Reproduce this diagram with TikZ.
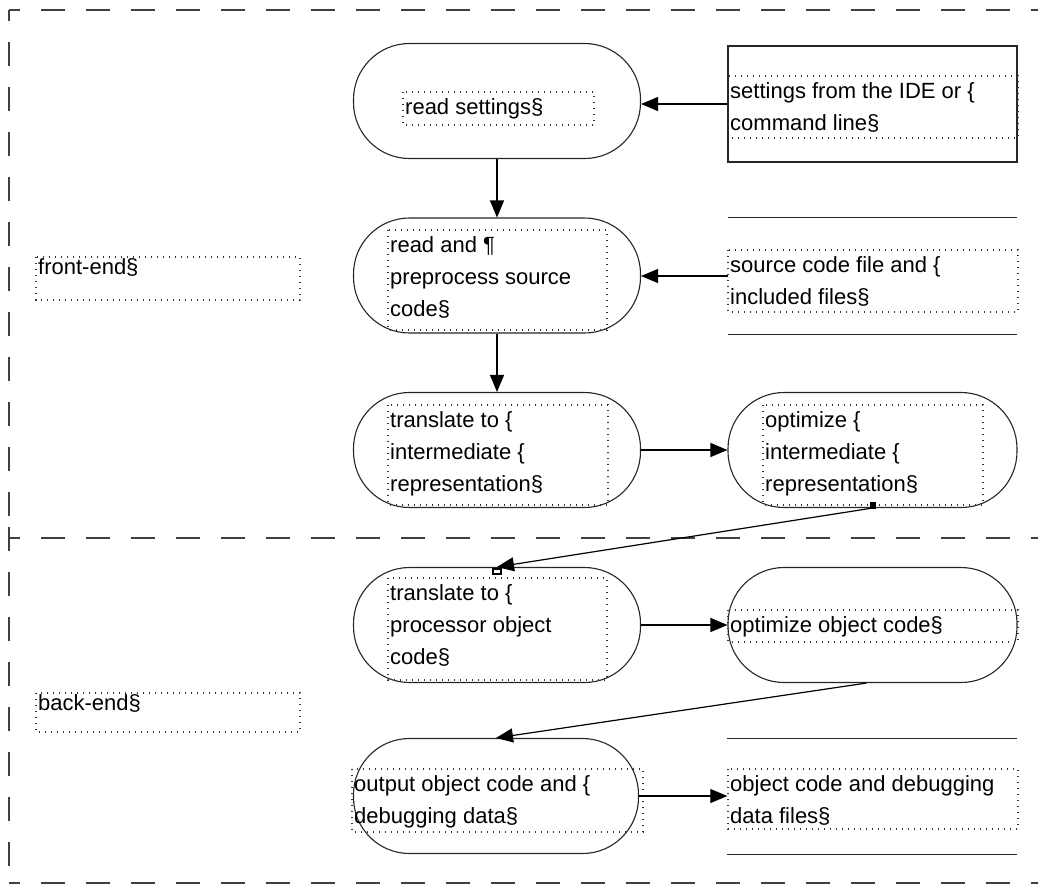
\documentclass[tikz,border=0pt]{standalone}
\usepackage{fontspec}
\setmainfont{Liberation Sans}
\usetikzlibrary{arrows.meta}

\begin{document}
\begin{tikzpicture}[x=1pt, y=-1pt,
  frame/.style={draw=black!75, line width=1.6pt, dash pattern=on 24pt off 21pt},
  proc/.style={draw=black!85, line width=1.1pt, rounded corners=56pt,
    minimum width=287pt, minimum height=115pt, inner sep=0pt},
  ext/.style={minimum width=289pt, minimum height=116pt, inner sep=0pt},
  txtbox/.style={draw=black!80, line width=1.1pt, dash pattern=on 1.1pt off 4.9pt},
  lbl/.style={anchor=north west, inner sep=0pt, align=left,
    font=\fontsize{22}{32}\selectfont},
  arr/.style={-{Triangle[length=17pt,width=14pt]}, line width=1.2pt},
  gluept/.style={draw=black, line width=1.2pt}
]
\useasboundingbox (0,0) rectangle (1038,884);

% lane borders (front-end / back-end)
\draw[frame, dash phase=13pt] (9,10) -- (1045,10);
\draw[frame, dash phase=13pt] (9,538) -- (1045,538);
\draw[frame, dash phase=13pt] (9,883) -- (1045,883);
\draw[frame, dash phase=13pt] (9,10) -- (9,538);
\draw[frame] (9,527) -- (9,890);

% lane labels
\draw[txtbox] (36,257) rectangle (300,300);
\node[lbl] (fe) at (38,257) {\rule{0pt}{17pt}front-end§};
\draw[txtbox] (36,693) rectangle (300,732);
\node[lbl] (be) at (38,693) {\rule{0pt}{17pt}back-end§};

% process steps
\node[proc] (s1) at (497,101) {};
\node[proc] (s2) at (497,275.5) {};
\node[proc] (s3) at (497,450) {};
\node[proc, minimum width=289pt] (s4) at (872.5,450) {};
\node[proc] (s5) at (497,625) {};
\node[proc, minimum width=289pt] (s6) at (872.5,625) {};
\node[proc, minimum width=285pt] (s7) at (496,796) {};

% external inputs and outputs
\node[ext, draw=black!85, line width=1.1pt] (r1) at (872.5,104) {};
\node[ext] (f1) at (872.5,276) {};
\draw[line width=1.1pt, black!85] (f1.north west) -- (f1.north east)
  (f1.south west) -- (f1.south east);
\node[ext, minimum height=115pt] (f2) at (872,796.5) {};
\draw[line width=1.1pt, black!85] (f2.north west) -- (f2.north east)
  (f2.south west) -- (f2.south east);

% step texts
\draw[txtbox] (403,92) rectangle (594,125);
\node[lbl] (t1) at (405,92) {\rule{0pt}{22pt}read settings§};
\draw[txtbox] (388,230) rectangle (607,330);
\node[lbl] (t2) at (390,230) {\rule{0pt}{22pt}read and ¶\\preprocess source\\code§};
\draw[txtbox] (388,405) rectangle (608,505);
\node[lbl] (t3) at (390,405) {\rule{0pt}{22pt}translate to \{\\intermediate \{\\representation§};
\draw[txtbox] (763,405) rectangle (983,505);
\node[lbl] (t4) at (765,405) {\rule{0pt}{22pt}optimize \{\\intermediate \{\\representation§};
\draw[txtbox] (388,578) rectangle (607,680);
\node[lbl] (t5) at (390,578) {\rule{0pt}{22pt}translate to \{\\processor object\\code§};
\draw[txtbox] (728,610) rectangle (1018,642);
\node[lbl] (t6) at (730,610) {\rule{0pt}{22pt}optimize object code§};
\draw[txtbox] (352,769) rectangle (643,832);
\node[lbl] (t7) at (354,769) {\rule{0pt}{22pt}output object code and \{\\debugging data§};

% external texts
\draw[txtbox] (728,76) rectangle (1018,138);
\node[lbl] (tr1) at (730,76) {\rule{0pt}{22pt}settings from the IDE or \{\\command line§};
\draw[txtbox] (728,250) rectangle (1018,312);
\node[lbl] (tf1) at (730,250) {\rule{0pt}{22pt}source code file and \{\\included files§};
\draw[txtbox] (728,769) rectangle (1018,829);
\node[lbl] (tf2) at (730,769) {\rule{0pt}{22pt}object code and debugging\\data files§};

% flow
\draw[arr] (r1.west) -- (r1.west -| s1.east);
\draw[arr] (s1.south) -- (s2.north);
\draw[arr] (f1.west) -- (f1.west -| s2.east);
\draw[arr] (s2.south) -- (s3.north);
\draw[arr] (s3.east) -- (s4.west);
\draw[arr] (s4.south) -- (s5.north);
\draw[arr] (s5.east) -- (s5.east -| s6.west);
\draw[arr] ([xshift=-6pt]s6.south) -- (s7.north);
\draw[arr] (s7.east) -- (s7.east -| f2.west);

% connection points of the diagonal link
\fill ([xshift=-3pt,yshift=-1pt]s4.south) rectangle ([xshift=3pt,yshift=6pt]s4.south);
\draw[gluept, fill=white] ([xshift=-4pt,yshift=-2pt]s5.north) rectangle ([xshift=4pt,yshift=-7pt]s5.north);
\end{tikzpicture}
\end{document}
